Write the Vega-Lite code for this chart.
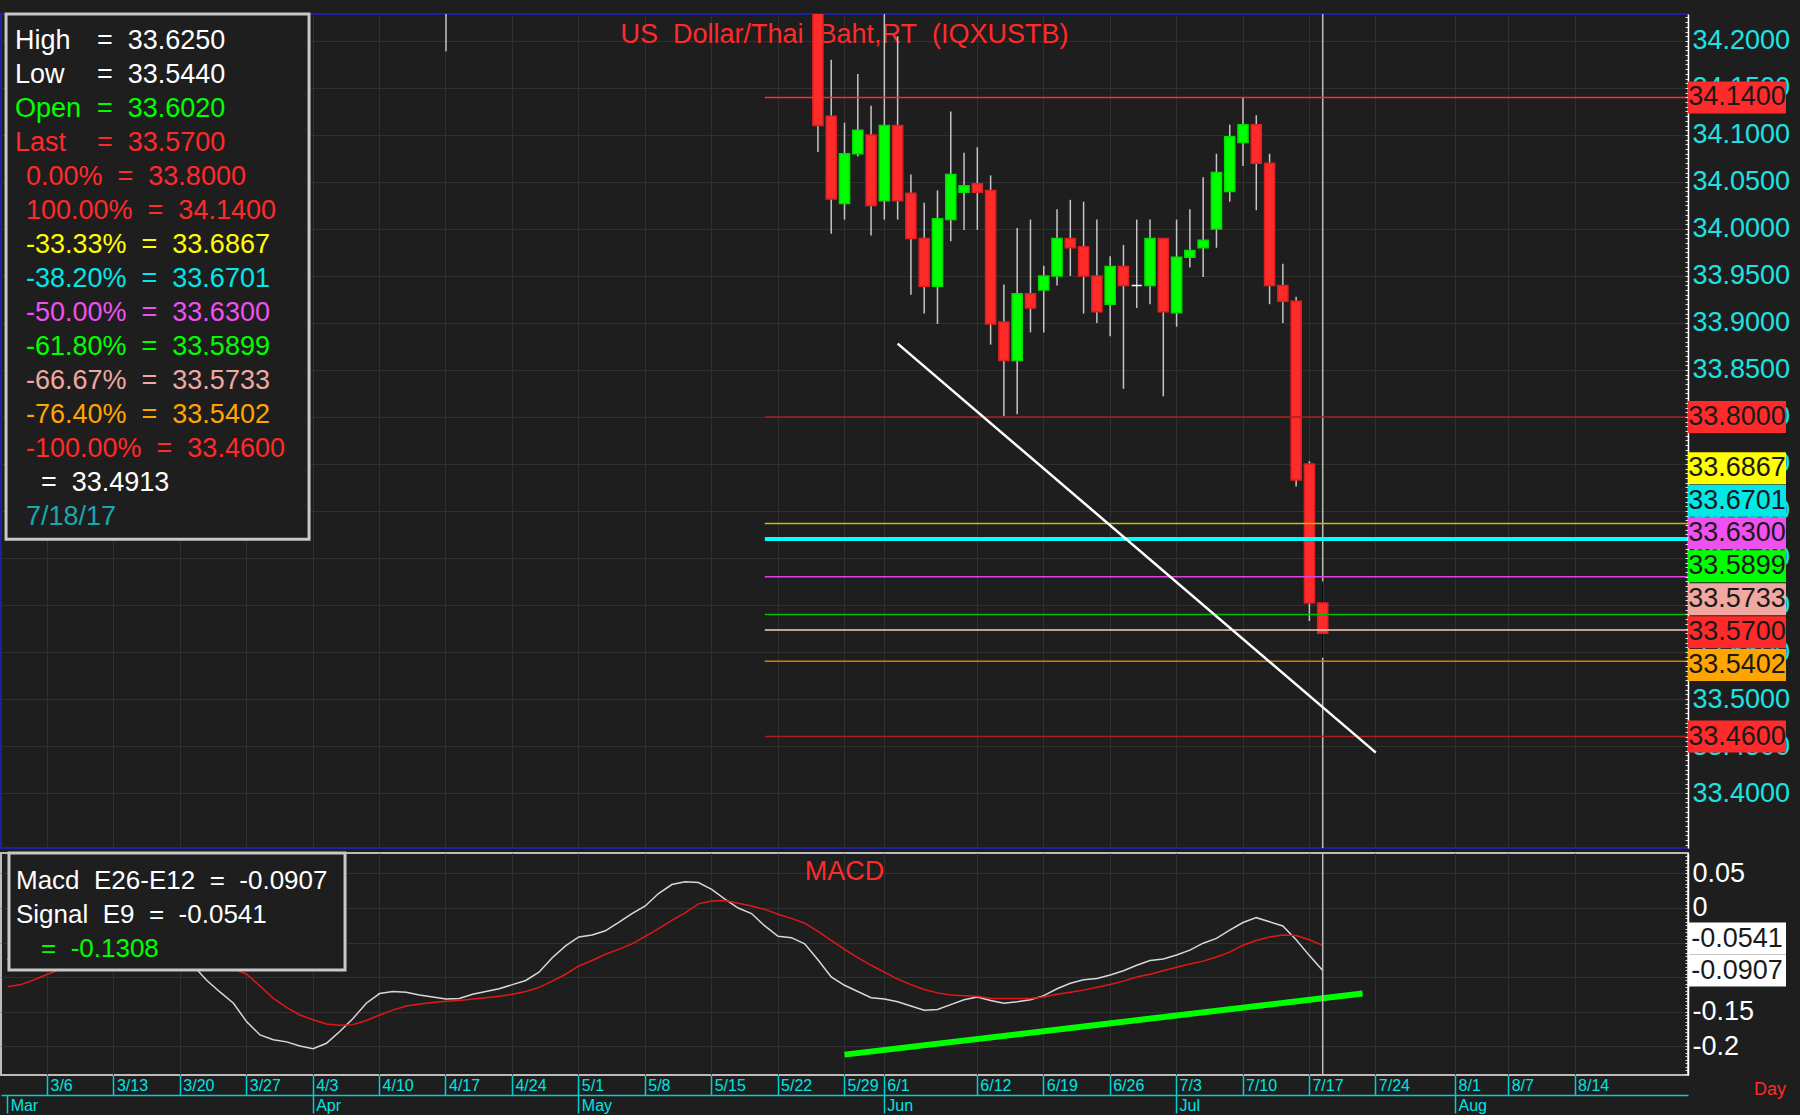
{
  "$schema": "https://vega.github.io/schema/vega-lite/v6.json",
  "background": "#1e1e1e",
  "padding": {"left": 0, "top": 11, "right": 10, "bottom": 2},
  "config": {
    "font": "Liberation Sans",
    "view": {"stroke": null},
    "axis": {"gridColor": "#303030", "gridWidth": 1}
  },
  "datasets": {
    "ohlc": [
      {"d":"4/17","o":34.5,"h":34.56,"l":34.189,"c":34.47},
      {"d":"5/25","o":34.26,"h":34.3,"l":34.082,"c":34.11},
      {"d":"5/26","o":34.12,"h":34.18,"l":33.995,"c":34.032},
      {"d":"5/29","o":34.027,"h":34.113,"l":34.01,"c":34.08},
      {"d":"5/30","o":34.08,"h":34.165,"l":34.077,"c":34.105},
      {"d":"5/31","o":34.1,"h":34.131,"l":33.993,"c":34.025},
      {"d":"6/1","o":34.03,"h":34.24,"l":34.01,"c":34.11},
      {"d":"6/2","o":34.11,"h":34.205,"l":34.01,"c":34.03},
      {"d":"6/5","o":34.038,"h":34.058,"l":33.93,"c":33.99},
      {"d":"6/6","o":33.99,"h":34.028,"l":33.91,"c":33.939},
      {"d":"6/7","o":33.939,"h":34.041,"l":33.899,"c":34.011},
      {"d":"6/8","o":34.01,"h":34.125,"l":33.987,"c":34.058},
      {"d":"6/9","o":34.039,"h":34.081,"l":33.999,"c":34.046},
      {"d":"6/12","o":34.048,"h":34.087,"l":33.999,"c":34.039},
      {"d":"6/13","o":34.041,"h":34.057,"l":33.877,"c":33.899},
      {"d":"6/14","o":33.901,"h":33.941,"l":33.801,"c":33.86},
      {"d":"6/15","o":33.86,"h":34.001,"l":33.803,"c":33.931},
      {"d":"6/16","o":33.931,"h":34.01,"l":33.89,"c":33.916},
      {"d":"6/19","o":33.935,"h":33.961,"l":33.89,"c":33.95},
      {"d":"6/20","o":33.95,"h":34.021,"l":33.94,"c":33.99},
      {"d":"6/21","o":33.99,"h":34.031,"l":33.95,"c":33.98},
      {"d":"6/22","o":33.981,"h":34.029,"l":33.91,"c":33.95},
      {"d":"6/23","o":33.95,"h":34.01,"l":33.9,"c":33.912},
      {"d":"6/26","o":33.92,"h":33.971,"l":33.886,"c":33.96},
      {"d":"6/27","o":33.96,"h":33.983,"l":33.83,"c":33.94},
      {"d":"6/28","o":33.94,"h":34.01,"l":33.916,"c":33.94},
      {"d":"6/29","o":33.94,"h":34.01,"l":33.92,"c":33.99},
      {"d":"6/30","o":33.99,"h":33.99,"l":33.822,"c":33.912},
      {"d":"7/3","o":33.911,"h":34.01,"l":33.896,"c":33.97},
      {"d":"7/4","o":33.97,"h":34.021,"l":33.959,"c":33.977},
      {"d":"7/5","o":33.98,"h":34.055,"l":33.949,"c":33.988},
      {"d":"7/6","o":34.0,"h":34.08,"l":33.98,"c":34.06},
      {"d":"7/7","o":34.04,"h":34.111,"l":34.029,"c":34.098},
      {"d":"7/10","o":34.092,"h":34.14,"l":34.067,"c":34.111},
      {"d":"7/11","o":34.111,"h":34.121,"l":34.02,"c":34.07},
      {"d":"7/12","o":34.07,"h":34.08,"l":33.92,"c":33.94},
      {"d":"7/13","o":33.94,"h":33.963,"l":33.9,"c":33.923},
      {"d":"7/14","o":33.923,"h":33.928,"l":33.726,"c":33.733},
      {"d":"7/17","o":33.75,"h":33.753,"l":33.583,"c":33.602},
      {"d":"7/18","o":33.602,"h":33.625,"l":33.544,"c":33.57}
    ],
    "fib": [
      {"k":"100.00%","p":34.14},{"k":"0.00%","p":33.8},{"k":"-33.33%","p":33.6867},
      {"k":"-38.20%","p":33.6701},{"k":"-50.00%","p":33.63},{"k":"-61.80%","p":33.5899},
      {"k":"-66.67%","p":33.5733},{"k":"-76.40%","p":33.5402},{"k":"-100.00%","p":33.46}
    ],
    "leg": [
      {"r":1,"k":"High","a":"High","b":"=\u00a0\u00a033.6250"},
      {"r":2,"k":"Low","a":"Low","b":"=\u00a0\u00a033.5440"},
      {"r":3,"k":"Open","a":"Open","b":"=\u00a0\u00a033.6020"},
      {"r":4,"k":"Last","a":"Last","b":"=\u00a0\u00a033.5700"},
      {"r":5,"k":"0.00%","a":"0.00%\u00a0\u00a0=\u00a0\u00a033.8000"},
      {"r":6,"k":"100.00%","a":"100.00%\u00a0\u00a0=\u00a0\u00a034.1400"},
      {"r":7,"k":"-33.33%","a":"-33.33%\u00a0\u00a0=\u00a0\u00a033.6867"},
      {"r":8,"k":"-38.20%","a":"-38.20%\u00a0\u00a0=\u00a0\u00a033.6701"},
      {"r":9,"k":"-50.00%","a":"-50.00%\u00a0\u00a0=\u00a0\u00a033.6300"},
      {"r":10,"k":"-61.80%","a":"-61.80%\u00a0\u00a0=\u00a0\u00a033.5899"},
      {"r":11,"k":"-66.67%","a":"-66.67%\u00a0\u00a0=\u00a0\u00a033.5733"},
      {"r":12,"k":"-76.40%","a":"-76.40%\u00a0\u00a0=\u00a0\u00a033.5402"},
      {"r":13,"k":"-100.00%","a":"-100.00%\u00a0\u00a0=\u00a0\u00a033.4600"},
      {"r":14,"k":"Line","a":"=\u00a0\u00a033.4913"},
      {"r":15,"k":"Date","a":"7/18/17"}
    ],
    "tags": [
      {"k":"100.00%","label":"34.1400","at":34.14},
      {"k":"0.00%","label":"33.8000","at":33.8},
      {"k":"-33.33%","label":"33.6867","at":33.7455},
      {"k":"-38.20%","label":"33.6701","at":33.7109},
      {"k":"-50.00%","label":"33.6300","at":33.6762},
      {"k":"-61.80%","label":"33.5899","at":33.6411},
      {"k":"-66.67%","label":"33.5733","at":33.6061},
      {"k":"Last","label":"33.5700","at":33.5711},
      {"k":"-76.40%","label":"33.5402","at":33.5361},
      {"k":"-100.00%","label":"33.4600","at":33.46}
    ],
    "macd": [
      {"d":"3/1","m":-0.075,"s":-0.114},{"d":"3/2","m":-0.068,"s":-0.111},{"d":"3/3","m":-0.06,"s":-0.104},
      {"d":"3/6","m":-0.051,"s":-0.096},{"d":"3/7","m":-0.043,"s":-0.089},{"d":"3/8","m":-0.036,"s":-0.082},
      {"d":"3/9","m":-0.03,"s":-0.076},{"d":"3/10","m":-0.025,"s":-0.07},{"d":"3/13","m":-0.022,"s":-0.065},
      {"d":"3/14","m":-0.022,"s":-0.061},{"d":"3/15","m":-0.027,"s":-0.059},{"d":"3/16","m":-0.037,"s":-0.058},
      {"d":"3/17","m":-0.05,"s":-0.059},{"d":"3/20","m":-0.066,"s":-0.062},{"d":"3/21","m":-0.084,"s":-0.067},
      {"d":"3/22","m":-0.105,"s":-0.073},{"d":"3/23","m":-0.122,"s":-0.08},{"d":"3/24","m":-0.138,"s":-0.088},
      {"d":"3/27","m":-0.165,"s":-0.096},{"d":"3/28","m":-0.184,"s":-0.113},{"d":"3/29","m":-0.191,"s":-0.131},
      {"d":"3/30","m":-0.194,"s":-0.144},{"d":"3/31","m":-0.2,"s":-0.155},{"d":"4/3","m":-0.204,"s":-0.162},
      {"d":"4/4","m":-0.196,"s":-0.168},{"d":"4/5","m":-0.179,"s":-0.17},{"d":"4/6","m":-0.16,"s":-0.169},
      {"d":"4/7","m":-0.138,"s":-0.163},{"d":"4/10","m":-0.124,"s":-0.155},{"d":"4/11","m":-0.121,"s":-0.148},
      {"d":"4/12","m":-0.122,"s":-0.142},{"d":"4/13","m":-0.126,"s":-0.139},{"d":"4/14","m":-0.129,"s":-0.137},
      {"d":"4/17","m":-0.132,"s":-0.135},{"d":"4/18","m":-0.131,"s":-0.134},{"d":"4/19","m":-0.125,"s":-0.132},
      {"d":"4/20","m":-0.121,"s":-0.13},{"d":"4/21","m":-0.117,"s":-0.128},{"d":"4/24","m":-0.111,"s":-0.125},
      {"d":"4/25","m":-0.105,"s":-0.121},{"d":"4/26","m":-0.093,"s":-0.115},{"d":"4/27","m":-0.072,"s":-0.106},
      {"d":"4/28","m":-0.055,"s":-0.096},{"d":"5/1","m":-0.042,"s":-0.084},{"d":"5/2","m":-0.039,"s":-0.076},
      {"d":"5/3","m":-0.033,"s":-0.067},{"d":"5/4","m":-0.021,"s":-0.06},{"d":"5/5","m":-0.008,"s":-0.052},
      {"d":"5/8","m":0.003,"s":-0.041},{"d":"5/9","m":0.021,"s":-0.03},{"d":"5/10","m":0.034,"s":-0.018},
      {"d":"5/11","m":0.038,"s":-0.007},{"d":"5/12","m":0.037,"s":0.006},{"d":"5/15","m":0.027,"s":0.01},
      {"d":"5/16","m":0.013,"s":0.011},{"d":"5/17","m":0.0,"s":0.007},{"d":"5/18","m":-0.008,"s":0.003},
      {"d":"5/19","m":-0.026,"s":-0.002},{"d":"5/22","m":-0.041,"s":-0.009},{"d":"5/23","m":-0.043,"s":-0.015},
      {"d":"5/24","m":-0.052,"s":-0.022},{"d":"5/25","m":-0.075,"s":-0.034},{"d":"5/26","m":-0.1,"s":-0.047},
      {"d":"5/29","m":-0.112,"s":-0.06},{"d":"5/30","m":-0.121,"s":-0.072},{"d":"5/31","m":-0.13,"s":-0.083},
      {"d":"6/1","m":-0.132,"s":-0.093},{"d":"6/2","m":-0.136,"s":-0.103},{"d":"6/5","m":-0.142,"s":-0.111},
      {"d":"6/6","m":-0.148,"s":-0.118},{"d":"6/7","m":-0.147,"s":-0.123},{"d":"6/8","m":-0.14,"s":-0.126},
      {"d":"6/9","m":-0.133,"s":-0.127},{"d":"6/12","m":-0.129,"s":-0.128},{"d":"6/13","m":-0.134,"s":-0.131},
      {"d":"6/14","m":-0.138,"s":-0.131},{"d":"6/15","m":-0.136,"s":-0.131},{"d":"6/16","m":-0.133,"s":-0.131},
      {"d":"6/19","m":-0.127,"s":-0.129},{"d":"6/20","m":-0.117,"s":-0.125},{"d":"6/21","m":-0.109,"s":-0.122},
      {"d":"6/22","m":-0.104,"s":-0.119},{"d":"6/23","m":-0.102,"s":-0.115},{"d":"6/26","m":-0.097,"s":-0.111},
      {"d":"6/27","m":-0.091,"s":-0.106},{"d":"6/28","m":-0.083,"s":-0.1},{"d":"6/29","m":-0.076,"s":-0.096},
      {"d":"6/30","m":-0.074,"s":-0.091},{"d":"7/3","m":-0.068,"s":-0.086},{"d":"7/4","m":-0.061,"s":-0.081},
      {"d":"7/5","m":-0.051,"s":-0.077},{"d":"7/6","m":-0.044,"s":-0.071},{"d":"7/7","m":-0.032,"s":-0.064},
      {"d":"7/10","m":-0.021,"s":-0.054},{"d":"7/11","m":-0.014,"s":-0.047},{"d":"7/12","m":-0.02,"s":-0.042},
      {"d":"7/13","m":-0.026,"s":-0.039},{"d":"7/14","m":-0.046,"s":-0.04},{"d":"7/17","m":-0.069,"s":-0.046},
      {"d":"7/18","m":-0.0907,"s":-0.0541}
    ],
    "mleg": [
      {"r":1,"k":"Macd","a":"Macd\u00a0\u00a0E26-E12\u00a0\u00a0=\u00a0\u00a0-0.0907"},
      {"r":2,"k":"Signal","a":"Signal\u00a0\u00a0E9\u00a0\u00a0=\u00a0\u00a0-0.0541"},
      {"r":3,"k":"Hist","a":"=\u00a0\u00a0-0.1308"}
    ],
    "mtags": [
      {"k":"Signal","label":"-0.0541","at":-0.0443},
      {"k":"Macd","label":"-0.0907","at":-0.0907}
    ]
  },
  "vconcat": [
    {
      "hconcat": [
        {
          "width": 1687, "height": 834,
          "view": {"stroke": "#20209c", "strokeWidth": 2},
          "encoding": {
            "x": {"field": "d", "type": "ordinal",
              "scale": {"type": "band", "paddingInner": 0, "paddingOuter": 0, "domain": ["3/1","3/2","3/3","3/6","3/7","3/8","3/9","3/10","3/13","3/14","3/15","3/16","3/17","3/20","3/21","3/22","3/23","3/24","3/27","3/28","3/29","3/30","3/31","4/3","4/4","4/5","4/6","4/7","4/10","4/11","4/12","4/13","4/14","4/17","4/18","4/19","4/20","4/21","4/24","4/25","4/26","4/27","4/28","5/1","5/2","5/3","5/4","5/5","5/8","5/9","5/10","5/11","5/12","5/15","5/16","5/17","5/18","5/19","5/22","5/23","5/24","5/25","5/26","5/29","5/30","5/31","6/1","6/2","6/5","6/6","6/7","6/8","6/9","6/12","6/13","6/14","6/15","6/16","6/19","6/20","6/21","6/22","6/23","6/26","6/27","6/28","6/29","6/30","7/3","7/4","7/5","7/6","7/7","7/10","7/11","7/12","7/13","7/14","7/17","7/18","7/19","7/20","7/21","7/24","7/25","7/26","7/27","7/28","7/31","8/1","8/2","8/3","8/4","8/7","8/8","8/9","8/10","8/11","8/14","8/15","8/16","8/17","8/18","8/21","8/22","8/23","8/24"]},
              "axis": {"values": ["3/6","3/13","3/20","3/27","4/3","4/10","4/17","4/24","5/1","5/8","5/15","5/22","5/29","6/1","6/12","6/19","6/26","7/3","7/10","7/17","7/24","8/1","8/7","8/14"], "bandPosition": 0.5, "grid": true, "labels": false, "ticks": false, "domain": false, "title": null, "minExtent": 0}}
          },
          "layer": [
            {
              "layer": [
                {
                  "data": {"values": [{}]},
                  "mark": {"type": "text", "text": "US\u00a0\u00a0Dollar/Thai\u00a0\u00a0Baht,RT\u00a0\u00a0(IQXUSTB)", "color": "#ff2a2a", "fontSize": 27, "align": "center", "baseline": "middle"},
                  "encoding": {"x": {"datum": "5/29", "type": "ordinal"}, "y": {"datum": 34.2064, "type": "quantitative"}}
                },
                {
                  "data": {"values": [{}]},
                  "mark": {"type": "rule", "color": "#bdbdbd", "strokeWidth": 1.5},
                  "encoding": {"x": {"datum": "7/18", "type": "ordinal"}}
                },
                {
                  "data": {"name": "ohlc"},
                  "mark": {"type": "rule", "strokeWidth": 1.5, "clip": true},
                  "encoding": {
                    "y": {"field": "l", "type": "quantitative", "scale": {"domain": [33.3415, 34.2287], "nice": false, "zero": false},
                      "axis": {"orient": "right", "values": [34.2,34.15,34.1,34.05,34.0,33.95,33.9,33.85,33.8,33.75,33.7,33.65,33.6,33.55,33.5,33.45,33.4], "grid": true, "labels": false, "ticks": false, "domain": false, "title": null, "minExtent": 0}},
                    "y2": {"field": "h"},
                    "color": {"condition": {"test": "datum.d == '7/18'", "value": "#000000"}, "value": "#c4c4c4"}
                  }
                },
                {
                  "data": {"name": "ohlc"},
                  "mark": {"type": "bar", "width": {"band": 0.76}, "strokeWidth": 1.5, "clip": true},
                  "encoding": {
                    "y": {"field": "o", "type": "quantitative"},
                    "y2": {"field": "c"},
                    "color": {"condition": [{"test": "datum.c > datum.o", "value": "#00ff00"}, {"test": "datum.c < datum.o", "value": "#ff2a2a"}], "value": "#ffffff"},
                    "stroke": {"condition": [{"test": "datum.c > datum.o", "value": "#00e000"}, {"test": "datum.c < datum.o", "value": "#e02020"}], "value": "#ffffff"}
                  }
                },
                {
                  "data": {"name": "fib"},
                  "mark": {"type": "rule"},
                  "encoding": {
                    "x": {"datum": "5/19", "type": "ordinal"},
                    "x2": {"datum": "8/24", "bandPosition": 1},
                    "y": {"field": "p", "type": "quantitative"},
                    "stroke": {"field": "k", "type": "nominal", "legend": null,
                      "scale": {"domain": ["100.00%","0.00%","-33.33%","-38.20%","-50.00%","-61.80%","-66.67%","-76.40%","-100.00%"],
                                "range": ["#ff2a2a","#a82020","#c0c000","#00ffff","#e040e0","#00c000","#ffc8c0","#d08000","#a82020"]}},
                    "strokeWidth": {"condition": {"test": "datum.k == '-38.20%'", "value": 4}, "value": 1.5}
                  }
                },
                {
                  "data": {"values": [{"d": "6/2", "p": 33.878}, {"d": "7/24", "p": 33.443}]},
                  "mark": {"type": "line", "color": "#ffffff", "strokeWidth": 2.5},
                  "encoding": {"y": {"field": "p", "type": "quantitative"}}
                },
                {
                  "data": {"values": [{}]},
                  "mark": {"type": "rect", "fill": "#1e1e1e", "stroke": "#c8c8c8", "strokeWidth": 3},
                  "encoding": {
                    "x": {"datum": "3/1", "type": "ordinal", "bandPosition": 0.38},
                    "x2": {"datum": "4/3", "bandPosition": 0.19},
                    "y": {"datum": 34.2287, "type": "quantitative"},
                    "y2": {"datum": 33.67}
                  }
                }
              ]
            },
            {
              "data": {"name": "leg"},
              "encoding": {
                "x": {"datum": "3/1", "type": "ordinal", "bandPosition": 0},
                "y": {"field": "r", "type": "quantitative", "scale": {"domain": [0.206, 24.735], "reverse": true, "nice": false, "zero": false}, "axis": null},
                "color": {"field": "k", "type": "nominal", "legend": null,
                  "scale": {"domain": ["High","Low","Open","Last","0.00%","100.00%","-33.33%","-38.20%","-50.00%","-61.80%","-66.67%","-76.40%","-100.00%","Line","Date"],
                            "range": ["#ffffff","#ffffff","#00ff00","#ff2a2a","#ff2a2a","#ff2a2a","#ffff00","#00e8e8","#f050f0","#00ff00","#f0a8a0","#ffa500","#ff2a2a","#ffffff","#18a8b0"]}}
              },
              "layer": [
                {"transform": [{"filter": "datum.b"}], "mark": {"type": "text", "align": "left", "baseline": "middle", "fontSize": 27, "dx": 14}, "encoding": {"text": {"field": "a"}}},
                {"transform": [{"filter": "datum.b"}], "mark": {"type": "text", "align": "left", "baseline": "middle", "fontSize": 27, "dx": 96}, "encoding": {"text": {"field": "b"}}},
                {"transform": [{"filter": "!datum.b && datum.k != 'Line'"}], "mark": {"type": "text", "align": "left", "baseline": "middle", "fontSize": 27, "dx": 25}, "encoding": {"text": {"field": "a"}}},
                {"transform": [{"filter": "datum.k == 'Line'"}], "mark": {"type": "text", "align": "left", "baseline": "middle", "fontSize": 27, "dx": 40}, "encoding": {"text": {"field": "a"}}}
              ]
            }
          ],
          "resolve": {"scale": {"y": "independent"}}
        },
        {
          "width": 98, "height": 834,
          "data": {"name": "tags"},
          "layer": [
            {
              "mark": {"type": "tick", "orient": "horizontal", "thickness": 32, "size": 98, "opacity": 1},
              "encoding": {
                "y": {"field": "at", "type": "quantitative", "scale": {"domain": [33.3415, 34.2287], "nice": false, "zero": false},
                  "axis": {"orient": "left", "tickCount": 180,
                    "labelExpr": "(abs(datum.value * 20 - round(datum.value * 20)) < 0.001 && datum.value > 33.38) ? format(datum.value, '.4f') : ''",
                    "labelFontSize": {"condition": {"test": "abs(datum.value * 20 - round(datum.value * 20)) < 0.001 && datum.value > 33.38", "value": 27}, "value": 0},
                    "grid": false, "domain": true, "domainColor": "#ffffff", "domainWidth": 1.5, "ticks": true, "tickSize": 3, "tickColor": "#e0e0e0",
                    "labelAlign": "left", "labelBaseline": "middle", "labelPadding": -7, "labelColor": "#1ee2e2",
                    "labelOverlap": false, "labelFlush": false, "title": null}},
                "color": {"field": "k", "type": "nominal", "legend": null,
                  "scale": {"domain": ["100.00%","0.00%","-33.33%","-38.20%","-50.00%","-61.80%","-66.67%","Last","-76.40%","-100.00%"],
                            "range": ["#ff2a2a","#ff2a2a","#ffff00","#00ffff","#f055f0","#00ff00","#f8b4ac","#ff2a2a","#ffa000","#ff2a2a"]}}
              }
            },
            {
              "mark": {"type": "text", "color": "#1a1a1a", "fontSize": 27, "align": "center", "baseline": "middle"},
              "encoding": {"y": {"field": "at", "type": "quantitative"}, "text": {"field": "label"}}
            }
          ]
        }
      ],
      "spacing": 0,
      "bounds": "flush"
    },
    {
      "hconcat": [
        {
          "width": 1687, "height": 222,
          "view": {"stroke": "#bcbcbc", "strokeWidth": 2},
          "encoding": {
            "x": {"field": "d", "type": "ordinal",
              "scale": {"type": "band", "paddingInner": 0, "paddingOuter": 0, "domain": ["3/1","3/2","3/3","3/6","3/7","3/8","3/9","3/10","3/13","3/14","3/15","3/16","3/17","3/20","3/21","3/22","3/23","3/24","3/27","3/28","3/29","3/30","3/31","4/3","4/4","4/5","4/6","4/7","4/10","4/11","4/12","4/13","4/14","4/17","4/18","4/19","4/20","4/21","4/24","4/25","4/26","4/27","4/28","5/1","5/2","5/3","5/4","5/5","5/8","5/9","5/10","5/11","5/12","5/15","5/16","5/17","5/18","5/19","5/22","5/23","5/24","5/25","5/26","5/29","5/30","5/31","6/1","6/2","6/5","6/6","6/7","6/8","6/9","6/12","6/13","6/14","6/15","6/16","6/19","6/20","6/21","6/22","6/23","6/26","6/27","6/28","6/29","6/30","7/3","7/4","7/5","7/6","7/7","7/10","7/11","7/12","7/13","7/14","7/17","7/18","7/19","7/20","7/21","7/24","7/25","7/26","7/27","7/28","7/31","8/1","8/2","8/3","8/4","8/7","8/8","8/9","8/10","8/11","8/14","8/15","8/16","8/17","8/18","8/21","8/22","8/23","8/24"]},
              "axis": {"values": ["3/6","3/13","3/20","3/27","4/3","4/10","4/17","4/24","5/1","5/8","5/15","5/22","5/29","6/1","6/12","6/19","6/26","7/3","7/10","7/17","7/24","8/1","8/7","8/14"],
                "orient": "bottom", "bandPosition": 0.5, "grid": true, "domain": false,
                "ticks": true, "tickSize": 20, "tickColor": "#00d0d0", "tickWidth": 1.5,
                "labelAngle": 0, "labelAlign": "left", "labelBaseline": "top", "labelPadding": -18, "labelOffset": 3,
                "labelColor": "#00e5e5", "labelFontSize": 16, "labelOverlap": false, "labelFlush": false, "title": null}}
          },
          "layer": [
            {
              "layer": [
                {
                  "data": {"name": "macd"},
                  "mark": {"type": "line", "color": "#d8d8d8", "strokeWidth": 1.5},
                  "encoding": {"y": {"field": "m", "type": "quantitative", "scale": {"domain": [-0.242, 0.0797], "nice": false, "zero": false},
                    "axis": {"orient": "right", "values": [0.05, 0, -0.05, -0.1, -0.15, -0.2], "grid": true, "labels": false, "ticks": false, "domain": false, "title": null, "minExtent": 0}}}
                },
                {
                  "data": {"name": "macd"},
                  "mark": {"type": "line", "color": "#e01818", "strokeWidth": 1.5},
                  "encoding": {"y": {"field": "s", "type": "quantitative"}}
                },
                {
                  "data": {"values": [{"d": "5/29", "v": -0.2125}, {"d": "7/21", "v": -0.124}]},
                  "mark": {"type": "line", "color": "#00ff00", "strokeWidth": 6},
                  "encoding": {"y": {"field": "v", "type": "quantitative"}}
                },
                {
                  "data": {"values": [{}]},
                  "mark": {"type": "rule", "color": "#bdbdbd", "strokeWidth": 1.5},
                  "encoding": {"x": {"datum": "7/18", "type": "ordinal"}}
                },
                {
                  "data": {"values": [{}]},
                  "mark": {"type": "text", "text": "MACD", "color": "#ff2a2a", "fontSize": 27, "align": "center", "baseline": "middle"},
                  "encoding": {"x": {"datum": "5/29", "type": "ordinal"}, "y": {"datum": 0.0522, "type": "quantitative"}}
                },
                {
                  "data": {"values": [{}]},
                  "mark": {"type": "rect", "fill": "#1e1e1e", "stroke": "#c8c8c8", "strokeWidth": 3},
                  "encoding": {
                    "x": {"datum": "3/1", "type": "ordinal", "bandPosition": 0.6},
                    "x2": {"datum": "4/5", "bandPosition": 0.9},
                    "y": {"datum": 0.0797, "type": "quantitative"},
                    "y2": {"datum": -0.0899}
                  }
                }
              ]
            },
            {
              "data": {"name": "mleg"},
              "encoding": {
                "x": {"datum": "3/1", "type": "ordinal", "bandPosition": 0,
                  "axis": {"values": ["3/1","4/3","5/1","6/1","7/3","8/1"], "orient": "bottom", "offset": 20, "bandPosition": 0.5, "grid": false,
                    "domain": true, "domainColor": "#00d0d0", "domainWidth": 1.5,
                    "ticks": true, "tickSize": 18, "tickColor": "#00d0d0", "tickWidth": 1.5,
                    "labelExpr": "datum.value == '3/1' ? 'Mar' : datum.value == '4/3' ? 'Apr' : datum.value == '5/1' ? 'May' : datum.value == '6/1' ? 'Jun' : datum.value == '7/3' ? 'Jul' : 'Aug'",
                    "labelAngle": 0, "labelAlign": "left", "labelBaseline": "top", "labelPadding": -16, "labelOffset": 3,
                    "labelColor": "#00e5e5", "labelFontSize": 16, "labelOverlap": false, "labelFlush": false, "title": null}},
                "y": {"field": "r", "type": "quantitative", "scale": {"domain": [0.191, 6.72], "reverse": true, "nice": false, "zero": false}, "axis": null},
                "color": {"field": "k", "type": "nominal", "legend": null,
                  "scale": {"domain": ["Macd","Signal","Hist"], "range": ["#ffffff","#ff2a2a","#00ff00"]}}
              },
              "layer": [
                {"transform": [{"filter": "datum.k != 'Hist'"}], "mark": {"type": "text", "align": "left", "baseline": "middle", "fontSize": 26, "dx": 15}, "encoding": {"text": {"field": "a"}}},
                {"transform": [{"filter": "datum.k == 'Hist'"}], "mark": {"type": "text", "align": "left", "baseline": "middle", "fontSize": 26, "dx": 40}, "encoding": {"text": {"field": "a"}}}
              ]
            }
          ],
          "resolve": {"scale": {"y": "independent"}, "axis": {"x": "independent"}}
        },
        {
          "width": 98, "height": 222,
          "data": {"name": "mtags"},
          "title": {"text": "Day", "orient": "bottom", "anchor": "end", "color": "#ff2a2a", "fontSize": 18, "fontWeight": "normal", "offset": 6},
          "layer": [
            {
              "mark": {"type": "tick", "orient": "horizontal", "thickness": 32, "size": 98, "opacity": 1},
              "encoding": {
                "y": {"field": "at", "type": "quantitative", "scale": {"domain": [-0.242, 0.0797], "nice": false, "zero": false},
                  "axis": {"orient": "left", "tickCount": 64,
                    "labelExpr": "abs(datum.value * 20 - round(datum.value * 20)) < 0.001 ? replace(format(datum.value, '.2~f'), '\u2212', '-') : ''",
                    "labelFontSize": {"condition": {"test": "abs(datum.value * 20 - round(datum.value * 20)) < 0.001", "value": 27}, "value": 0},
                    "grid": false, "domain": true, "domainColor": "#ffffff", "domainWidth": 1.5, "ticks": true, "tickSize": 3, "tickColor": "#e0e0e0",
                    "labelAlign": "left", "labelBaseline": "middle", "labelPadding": -7, "labelColor": "#ffffff",
                    "labelOverlap": false, "labelFlush": false, "title": null}},
                "color": {"field": "k", "type": "nominal", "legend": null, "scale": {"domain": ["Signal","Macd"], "range": ["#ff2a2a","#ffffff"]}}
              }
            },
            {
              "mark": {"type": "text", "color": "#1a1a1a", "fontSize": 27, "align": "center", "baseline": "middle"},
              "encoding": {"y": {"field": "at", "type": "quantitative"}, "text": {"field": "label"}}
            }
          ]
        }
      ],
      "spacing": 0,
      "bounds": "flush"
    }
  ],
  "spacing": 0
}
